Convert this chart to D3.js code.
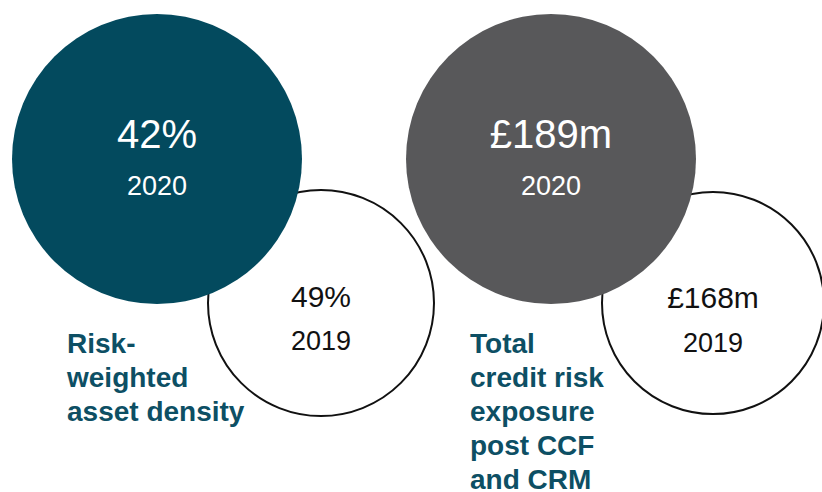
<!DOCTYPE html>
<html>
<head>
<meta charset="utf-8">
<script src="https://cdn.jsdelivr.net/npm/d3@7"></script>
<style>
  html, body { margin: 0; padding: 0; background: #fff; }
  svg { display: block; }
  text { font-family: "Liberation Sans", Arial, sans-serif; }
</style>
</head>
<body>
<svg id="chart" width="822" height="492"></svg>
<script>
// ---- data ----
const metrics = ["rwa", "exposure"];
const labels2020 = ["42%", "£189m"];
const labels2019 = ["49%", "£168m"];
const years = ["2020", "2019"];
const titles = [
  ["Risk-", "weighted", "asset density"],
  ["Total", "credit risk", "exposure", "post CCF", "and CRM"]
];
const fills = ["#034a5e", "#58585a"];
const titleColor = "#0d4f64";

// ---- layout ----
const svg = d3.select("#chart");
const x = d3.scaleBand().domain(metrics).range([-40, 748]).padding(0);
const bigR = 145, smallR = 113;
const bigCY = 159, smallCY = 303;
const smallDX = [164, 162];

const g = svg.selectAll("g.metric").data(metrics).join("g")
  .attr("class", "metric")
  .attr("transform", d => `translate(${x(d) + x.bandwidth() / 2},0)`);

// 2019 outline circles (behind)
g.append("circle")
  .attr("cx", (d, i) => smallDX[i])
  .attr("cy", smallCY)
  .attr("r", (d, i) => [smallR, 111][i])
  .attr("fill", "#fff")
  .attr("stroke", "#111")
  .attr("stroke-width", 2);

// 2020 filled circles
g.append("circle")
  .attr("cx", 0)
  .attr("cy", bigCY)
  .attr("r", bigR)
  .attr("fill", (d, i) => fills[i]);

// 2020 texts
g.append("text")
  .attr("x", 0).attr("y", 148)
  .attr("text-anchor", "middle")
  .attr("fill", "#fff")
  .attr("font-size", 40)
  .text((d, i) => labels2020[i]);
g.append("text")
  .attr("x", 0).attr("y", 195)
  .attr("text-anchor", "middle")
  .attr("fill", "#fff")
  .attr("font-size", 27)
  .text(years[0]);

// 2019 texts
g.append("text")
  .attr("x", (d, i) => smallDX[i])
  .attr("y", (d, i) => [307, 308][i])
  .attr("text-anchor", "middle")
  .attr("fill", "#111")
  .attr("font-size", 30)
  .text((d, i) => labels2019[i]);
g.append("text")
  .attr("x", (d, i) => smallDX[i])
  .attr("y", (d, i) => [350, 352][i])
  .attr("text-anchor", "middle")
  .attr("fill", "#111")
  .attr("font-size", 27)
  .text(years[1]);

// titles
const titleX = [-90, -81];
g.append("text")
  .attr("fill", titleColor)
  .attr("font-size", 28)
  .attr("font-weight", "bold")
  .attr("x", (d, i) => titleX[i])
  .attr("y", 353)
  .selectAll("tspan")
  .data((d, i) => titles[i].map(t => ({ t, i })))
  .join("tspan")
  .attr("x", d => titleX[d.i])
  .attr("dy", (d, j) => j === 0 ? 0 : 34)
  .text(d => d.t);
</script>
</body>
</html>
